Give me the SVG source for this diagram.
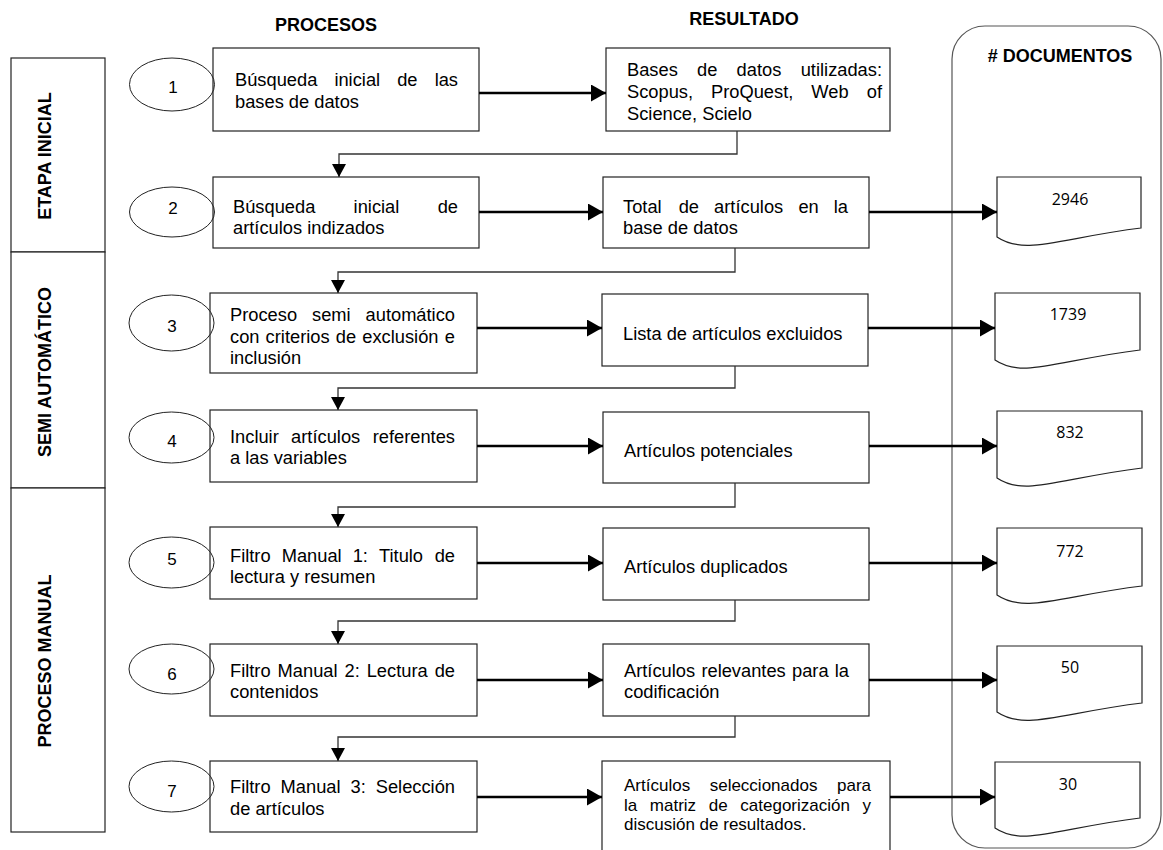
<svg xmlns="http://www.w3.org/2000/svg" width="1163" height="850" viewBox="0 0 1163 850">
<style>
text{font-family:"Liberation Sans",Arial,sans-serif;fill:#000}
.t{font-size:18.3px}
.s{font-size:17px}
.e{text-anchor:end}
.h{font-size:18px;font-weight:bold}
.stage{font-size:18px;font-weight:bold;text-anchor:middle}
.num{font-size:17px;text-anchor:middle}
.doc{font-family:"Open Sans","Noto Sans",sans-serif;font-size:16px;text-anchor:middle}
.box{fill:#fff;stroke:#222;stroke-width:1.2}
.ell{fill:none;stroke:#222;stroke-width:1}
.arr{fill:none;stroke:#000;stroke-width:2.6}
.thin{fill:none;stroke:#333;stroke-width:1.3}
.cont{fill:none;stroke:#555;stroke-width:1.2}
</style>
<defs>
<marker id="ah" markerUnits="userSpaceOnUse" markerWidth="16" markerHeight="17" refX="15" refY="8.5" orient="auto"><path d="M0,0 L15,8.5 L0,17 Z" fill="#000"/></marker>
<marker id="ad" markerUnits="userSpaceOnUse" markerWidth="14" markerHeight="14" refX="13" refY="7" orient="auto"><path d="M0,0 L13,7 L0,14 Z" fill="#000"/></marker>
</defs>
<rect width="1163" height="850" fill="#fff"/>

<g id="headers">
<text class="h" x="326" y="31" text-anchor="middle">PROCESOS</text>
<text class="h" x="744" y="25" text-anchor="middle">RESULTADO</text>
</g>

<g id="documentos-container">
<rect class="cont" x="952" y="26" width="209" height="822" rx="33" ry="33"/>
<text class="h" x="1060" y="62" text-anchor="middle"># DOCUMENTOS</text>
</g>

<g id="stage-inicial">
<rect class="box" x="11" y="58" width="94" height="194"/>
<text class="stage" transform="translate(51,156) rotate(-90)">ETAPA INICIAL</text>
</g>
<g id="stage-semi">
<rect class="box" x="11" y="252" width="94" height="236"/>
<text class="stage" transform="translate(51,372) rotate(-90)">SEMI AUTOMÁTICO</text>
</g>
<g id="stage-manual">
<rect class="box" x="11" y="488" width="94" height="344"/>
<text class="stage" transform="translate(51,661) rotate(-90)">PROCESO MANUAL</text>
</g>

<g id="p1">
<rect class="box" x="213" y="48" width="266" height="83"/>
<text class="t" x="235" y="86">Búsqueda</text><text class="t" x="334.4" y="86">inicial</text><text class="t" x="397.2" y="86">de</text><text class="t e" x="458" y="86">las</text>
<text class="t" x="235" y="108">bases de datos</text>
</g>
<g id="p2">
<rect class="box" x="213" y="177" width="266" height="71"/>
<text class="t" x="233" y="213">Búsqueda</text><text class="t" x="353.6" y="213">inicial</text><text class="t e" x="458" y="213">de</text>
<text class="t" x="233" y="234">artículos indizados</text>
</g>
<g id="p3">
<rect class="box" x="210" y="293" width="267" height="80"/>
<text class="t" x="230" y="321">Proceso</text><text class="t" x="312" y="321">semi</text><text class="t e" x="455" y="321">automático</text>
<text class="t" x="230" y="343">con</text><text class="t" x="265.6" y="343">criterios</text><text class="t" x="335.8" y="343">de</text><text class="t" x="362.3" y="343">exclusión</text><text class="t e" x="455" y="343">e</text>
<text class="t" x="230" y="364">inclusión</text>
</g>
<g id="p4">
<rect class="box" x="210" y="410" width="267" height="72"/>
<text class="t" x="230" y="443">Incluir</text><text class="t" x="291.1" y="443">artículos</text><text class="t e" x="455" y="443">referentes</text>
<text class="t" x="230" y="464">a las variables</text>
</g>
<g id="p5">
<rect class="box" x="210" y="527" width="267" height="72"/>
<text class="t" x="230" y="562">Filtro</text><text class="t" x="281.7" y="562">Manual</text><text class="t" x="352.7" y="562">1:</text><text class="t" x="379" y="562">Titulo</text><text class="t e" x="455" y="562">de</text>
<text class="t" x="230" y="583">lectura y resumen</text>
</g>
<g id="p6">
<rect class="box" x="210" y="644" width="267" height="72"/>
<text class="t" x="230" y="677">Filtro</text><text class="t" x="277.6" y="677">Manual</text><text class="t" x="344.5" y="677">2:</text><text class="t" x="366.7" y="677">Lectura</text><text class="t e" x="455" y="677">de</text>
<text class="t" x="230" y="698">contenidos</text>
</g>
<g id="p7">
<rect class="box" x="210" y="761" width="267" height="71"/>
<text class="t" x="230" y="793">Filtro</text><text class="t" x="280.6" y="793">Manual</text><text class="t" x="350.5" y="793">3:</text><text class="t e" x="455" y="793">Selección</text>
<text class="t" x="230" y="815">de artículos</text>
</g>

<g id="n1"><ellipse class="ell" cx="172" cy="84.5" rx="42.5" ry="26.5"/><text class="num" x="173" y="93">1</text></g>
<g id="n2"><ellipse class="ell" cx="172" cy="212" rx="42.5" ry="25"/><text class="num" x="173" y="214">2</text></g>
<g id="n3"><ellipse class="ell" cx="171.5" cy="323" rx="42.5" ry="28"/><text class="num" x="172" y="332">3</text></g>
<g id="n4"><ellipse class="ell" cx="171.5" cy="437.5" rx="42.5" ry="25.5"/><text class="num" x="172" y="447">4</text></g>
<g id="n5"><ellipse class="ell" cx="171.5" cy="562.5" rx="42.5" ry="25.5"/><text class="num" x="172" y="565">5</text></g>
<g id="n6"><ellipse class="ell" cx="171.5" cy="669" rx="42.5" ry="25"/><text class="num" x="172" y="680">6</text></g>
<g id="n7"><ellipse class="ell" cx="171.5" cy="786.5" rx="42.5" ry="25.5"/><text class="num" x="172" y="797">7</text></g>

<g id="r1">
<rect class="box" x="606" y="48" width="284" height="83"/>
<text class="t" x="627" y="76">Bases</text><text class="t" x="697.1" y="76">de</text><text class="t" x="736.6" y="76">datos</text><text class="t e" x="882" y="76">utilizadas:</text>
<text class="t" x="627" y="98">Scopus,</text><text class="t" x="711" y="98">ProQuest,</text><text class="t" x="811.3" y="98">Web</text><text class="t e" x="882" y="98">of</text>
<text class="t" x="627" y="120">Science, Scielo</text>
</g>
<g id="r2">
<rect class="box" x="603" y="177" width="266" height="71"/>
<text class="t" x="623" y="213">Total</text><text class="t" x="678.7" y="213">de</text><text class="t" x="714.1" y="213">artículos</text><text class="t" x="798.4" y="213">en</text><text class="t e" x="848" y="213">la</text>
<text class="t" x="623" y="234">base de datos</text>
</g>
<g id="r3">
<rect class="box" x="602" y="294" width="266" height="72"/>
<text class="t" x="623" y="340">Lista de artículos excluidos</text>
</g>
<g id="r4">
<rect class="box" x="603" y="412" width="266" height="71"/>
<text class="t" x="624" y="457">Artículos potenciales</text>
</g>
<g id="r5">
<rect class="box" x="603" y="528" width="266" height="72"/>
<text class="t" x="624" y="573">Artículos duplicados</text>
</g>
<g id="r6">
<rect class="box" x="603" y="644" width="266" height="72"/>
<text class="t" x="624" y="677">Artículos</text><text class="t" x="701.4" y="677">relevantes</text><text class="t" x="792" y="677">para</text><text class="t e" x="849" y="677">la</text>
<text class="t" x="624" y="698">codificación</text>
</g>
<g id="r7">
<rect class="box" x="602" y="761" width="288" height="100"/>
<text class="s" x="624" y="791">Artículos</text><text class="s" x="709.7" y="791">seleccionados</text><text class="s e" x="871" y="791">para</text>
<text class="s" x="624" y="810.5">la</text><text class="s" x="649.8" y="810.5">matriz</text><text class="s" x="708.8" y="810.5">de</text><text class="s" x="740.3" y="810.5">categorización</text><text class="s e" x="871" y="810.5">y</text>
<text class="s" x="624" y="830">discusión de resultados.</text>
</g>

<g id="d1">
<path class="box" d="M997,177 H1141 V228 C1060,238 1025,256 997,237 Z"/>
<text class="doc" x="1070" y="205">2946</text>
</g>
<g id="d2">
<path class="box" d="M995,293 H1140 V350 C1058,360 1023,379 995,360 Z"/>
<text class="doc" x="1068" y="320">1739</text>
</g>
<g id="d3">
<path class="box" d="M997,411 H1142 V468 C1060,478 1025,497 997,478 Z"/>
<text class="doc" x="1070" y="438">832</text>
</g>
<g id="d4">
<path class="box" d="M997,528 H1142 V586 C1060,596 1025,614 997,595 Z"/>
<text class="doc" x="1070" y="557">772</text>
</g>
<g id="d5">
<path class="box" d="M997,646 H1142 V703 C1060,713 1025,731 997,712 Z"/>
<text class="doc" x="1070" y="673">50</text>
</g>
<g id="d6">
<path class="box" d="M995,762 H1140 V818 C1058,828 1023,847 995,828 Z"/>
<text class="doc" x="1068" y="790">30</text>
</g>

<g id="connectors">
<path class="arr" marker-end="url(#ah)" d="M479,93 H606"/>
<path class="arr" marker-end="url(#ah)" d="M479,212 H603"/>
<path class="arr" marker-end="url(#ah)" d="M477,328 H602"/>
<path class="arr" marker-end="url(#ah)" d="M477,446 H603"/>
<path class="arr" marker-end="url(#ah)" d="M477,563 H603"/>
<path class="arr" marker-end="url(#ah)" d="M477,680 H603"/>
<path class="arr" marker-end="url(#ah)" d="M477,797 H602"/>
<path class="arr" marker-end="url(#ah)" d="M869,212 H997"/>
<path class="arr" marker-end="url(#ah)" d="M868,328 H995"/>
<path class="arr" marker-end="url(#ah)" d="M869,446 H997"/>
<path class="arr" marker-end="url(#ah)" d="M869,563 H997"/>
<path class="arr" marker-end="url(#ah)" d="M869,680 H997"/>
<path class="arr" marker-end="url(#ah)" d="M890,797 H995"/>
<path class="thin" marker-end="url(#ad)" d="M737,131 V154 H339 V177"/>
<path class="thin" marker-end="url(#ad)" d="M735,248 V272 H338 V293"/>
<path class="thin" marker-end="url(#ad)" d="M735,366 V388 H338 V410"/>
<path class="thin" marker-end="url(#ad)" d="M735,483 V507 H338 V527"/>
<path class="thin" marker-end="url(#ad)" d="M735,600 V621 H338 V644"/>
<path class="thin" marker-end="url(#ad)" d="M735,716 V737 H338 V761"/>
</g>
</svg>
